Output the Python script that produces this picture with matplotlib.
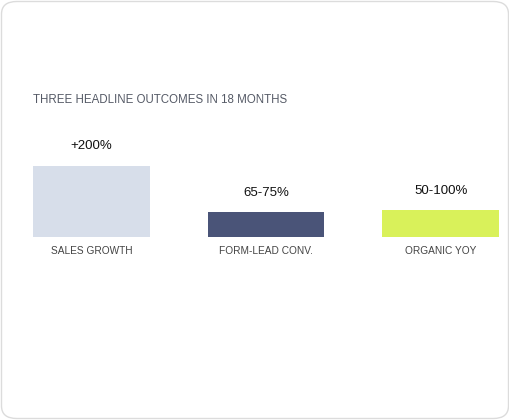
import matplotlib.pyplot as plt
from matplotlib.patches import FancyBboxPatch

categories = ["SALES GROWTH", "FORM-LEAD CONV.", "ORGANIC YOY"]
values = [200, 70, 76]
value_labels = ["+200%", "65-75%", "50-100%"]
colors = ["#d7deea", "#4a5478", "#d9f15a"]

W, H = 510, 420
plt.rcParams["font.family"] = ["Liberation Sans", "DejaVu Sans"]
fig = plt.figure(figsize=(W / 100, H / 100), dpi=100)

# card background
card = FancyBboxPatch((1.5 / W, 1.5 / H), (W - 3) / W, (H - 3) / H,
                      boxstyle="round,pad=0,rounding_size=0.03",
                      transform=fig.transFigure, fc="white",
                      ec="#dcdcdc", lw=1, zorder=-10)
fig.patches.append(card)

fig.text(33 / W, 1 - 100 / H, "THREE HEADLINE OUTCOMES IN 18 MONTHS",
         fontsize=8.3, color="#555a66", va="center", ha="left")

# axes spans pixel x 33..499, y 130..237
ax = fig.add_axes([33 / W, 1 - 237 / H, 466 / W, 107 / H])
ax.set_xlim(-0.3343, 2.3343)
ax.set_ylim(0, 301)
ax.axis("off")
x = range(len(categories))
bars = ax.bar(x, values, width=0.669, color=colors)
for b in bars:
    b.set_linewidth(0)
for i, (v, lab, cat) in enumerate(zip(values, value_labels, categories)):
    ax.annotate(lab, (i, v), xytext=(0, 14), textcoords="offset points",
                ha="center", va="center", fontsize=9.5, color="#111111")
    ax.annotate(cat, (i, 0), xytext=(0, -10), textcoords="offset points",
                ha="center", va="center", fontsize=7.3, color="#444444")

fig.savefig("out.png", dpi=100)
